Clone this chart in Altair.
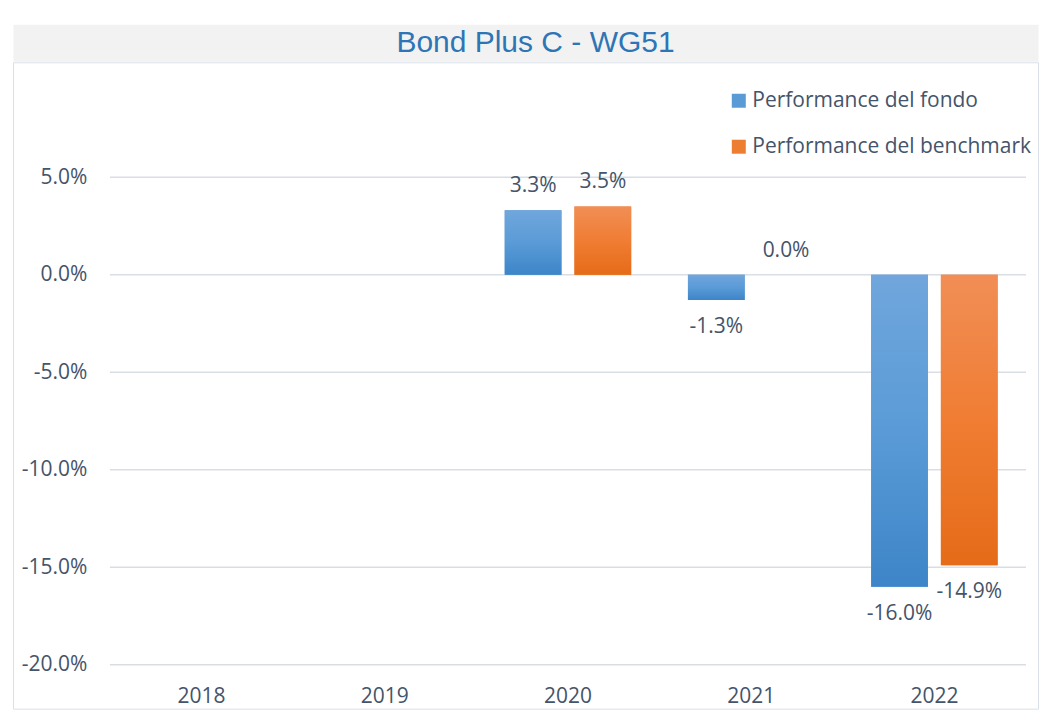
import altair as alt
import pandas as pd

# ---- data ----
years = ["2018", "2019", "2020", "2021", "2022"]
fondo = [None, None, 3.3, -1.3, -16.0]
benchmark = [None, None, 3.5, 0.0, -14.9]
series_names = ["Performance del fondo", "Performance del benchmark"]
y_ticks = [-20, -15, -10, -5, 0, 5]
title_text = "Bond Plus C - WG51"

rows = []
for i, yr in enumerate(years):
    rows.append({"year": yr, "series": series_names[0], "value": fondo[i]})
    rows.append({"year": yr, "series": series_names[1], "value": benchmark[i]})
df = pd.DataFrame(rows)
df_valid = df.dropna().copy()
df_valid["label"] = df_valid["value"].map(lambda v: f"{v:.1f}%")
grid_df = pd.DataFrame({"t": y_ticks})

# ---- style ----
FONT = "Open Sans"
FS = 21
TXT = "#44546A"
BLUE = "#5B9BD5"
ORANGE = "#ED7D31"
W, H = 1026, 647
GX0, GX1 = 97, 1014
GY0, GY1 = 603, 115

xscale = alt.Scale(domain=years, range=[GX0, GX1], paddingInner=0, paddingOuter=0)
xoff_scale = alt.Scale(domain=series_names, paddingInner=0.186, paddingOuter=0.407)
yscale = alt.Scale(domain=[-20, 5], range=[GY0, GY1], nice=False, zero=False)

xaxis = alt.Axis(title=None, orient="bottom", offset=-(H - GY0), domain=False, ticks=False,
                 grid=False, labelAngle=0, labelPadding=21, labelFont=FONT, labelFontSize=FS,
                 labelColor=TXT)
yaxis = alt.Axis(title=None, orient="left", offset=-GX0, domain=False, ticks=False, grid=False,
                 values=y_ticks,
                 labelExpr="(datum.value < 0 ? '-' : '') + format(abs(datum.value), '.1f') + '%'",
                 labelPadding=23, labelFont=FONT, labelFontSize=FS, labelColor=TXT)

grid = alt.Chart(grid_df).mark_rule(color="#D9DEE5", strokeWidth=1.5).encode(
    y=alt.Y("t:Q", scale=yscale, axis=yaxis),
    x=alt.value(GX0),
    x2=alt.value(GX1),
)

base = alt.Chart(df_valid).encode(
    x=alt.X("year:N", scale=xscale, axis=xaxis, sort=years),
    xOffset=alt.XOffset("series:N", scale=xoff_scale, sort=series_names),
    y=alt.Y("value:Q", scale=yscale, axis=yaxis),
)

bars_flat = base.mark_bar().encode(
    color=alt.Color("series:N", scale=alt.Scale(domain=series_names, range=[BLUE, ORANGE]),
                    legend=alt.Legend(title=None, orient="none", legendX=716, legendY=66,
                                      direction="vertical", symbolType="square", symbolSize=196,
                                      symbolStrokeWidth=0, labelFont=FONT, labelFontSize=FS,
                                      labelColor=TXT, rowPadding=24, labelOffset=3, padding=0,
                                      labelLimit=400))
)

grad_blue = alt.Gradient(gradient="linear", x1=0, y1=0, x2=0, y2=1,
                         stops=[alt.GradientStop(color="#70A6DC", offset=0),
                                alt.GradientStop(color="#5A9BD7", offset=0.5),
                                alt.GradientStop(color="#3D85C8", offset=1)])
grad_orange = alt.Gradient(gradient="linear", x1=0, y1=0, x2=0, y2=1,
                           stops=[alt.GradientStop(color="#F18E56", offset=0),
                                  alt.GradientStop(color="#F07D33", offset=0.5),
                                  alt.GradientStop(color="#E56B18", offset=1)])

bars_blue = base.transform_filter(alt.datum.series == series_names[0]).mark_bar(color=grad_blue)
bars_orange = base.transform_filter(alt.datum.series == series_names[1]).mark_bar(color=grad_orange)

lab_pos = base.transform_filter(alt.datum.value >= 0).mark_text(
    dy=-24, baseline="middle", font=FONT, fontSize=FS, color=TXT
).encode(text="label:N")
lab_neg = base.transform_filter(alt.datum.value < 0).mark_text(
    dy=27, baseline="middle", font=FONT, fontSize=FS, color=TXT
).encode(text="label:N")

main = alt.layer(grid, bars_flat, bars_blue, bars_orange, lab_pos, lab_neg).properties(
    width=W, height=H,
    view=alt.ViewBackground(fill="white", stroke="#DAE0E8", strokeWidth=1),
)

title_panel = alt.Chart(pd.DataFrame({"t": [title_text]})).mark_text(
    font="Liberation Sans", fontSize=30, color="#2E75B6", baseline="middle", align="center"
).encode(
    text="t:N",
    x=alt.value(523),
    y=alt.value(19),
).properties(
    width=W, height=37,
    view=alt.ViewBackground(fill="#F2F2F2", strokeOpacity=0),
)

chart = alt.vconcat(title_panel, main, spacing=0).properties(
    padding={"left": 4, "top": 16, "right": 0, "bottom": 0},
    background="white",
)

chart.save("out.html", embed_options={"renderer": "svg", "actions": False})
